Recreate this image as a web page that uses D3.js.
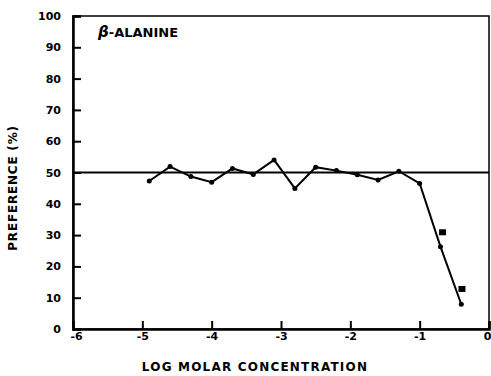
<!DOCTYPE html>
<html>
<head>
<meta charset="utf-8">
<script src="https://cdn.jsdelivr.net/npm/d3@7"></script>
<style>
  body { margin: 0; background: #fff; }
  text { font-family: "DejaVu Sans", sans-serif; font-weight: bold; fill: #000; }
</style>
</head>
<body>
<svg id="chart" width="491" height="376"></svg>
<script>
// log molar concentration vs preference
const logConc = [-4.9, -4.6, -4.3, -4.0, -3.7, -3.4, -3.1, -2.8, -2.5, -2.2, -1.9, -1.6, -1.3, -1.0, -0.7, -0.4];
const preference = [47.3, 51.9, 48.7, 46.9, 51.3, 49.4, 54.0, 44.9, 51.7, 50.6, 49.3, 47.6, 50.4, 46.5, 26.3, 7.9];

// extra square markers (not connected)
const squareConc = [-0.67, -0.39];
const squarePref = [30.9, 12.8];

const xTicks = [-6, -5, -4, -3, -2, -1, 0];
const yTicks = [0, 10, 20, 30, 40, 50, 60, 70, 80, 90, 100];
const refLevel = 50;

const margin = { top: 16, right: 2, bottom: 47, left: 73 };
const width = 491, height = 376;

const svg = d3.select('#chart');

const x = d3.scaleLinear().domain([-6, 0]).range([margin.left, width - margin.right]);
const y = d3.scaleLinear().domain([0, 100]).range([height - margin.bottom, margin.top]);

// frame
svg.append('rect')
    .attr('x', x(-6)).attr('y', y(100))
    .attr('width', x(0) - x(-6)).attr('height', y(0) - y(100))
    .attr('fill', 'none').attr('stroke', '#000').attr('stroke-width', 1.5);

// axes with inward ticks
const xAxis = svg.append('g')
    .attr('transform', `translate(0,${y(0)})`)
    .call(d3.axisBottom(x).tickValues(xTicks).tickSize(-8).tickPadding(4).tickFormat(d => d === 0 ? '0' : '-' + Math.abs(d)));
xAxis.select('.domain').attr('stroke-width', 2.5);
xAxis.selectAll('.tick line').attr('stroke-width', 2);
xAxis.selectAll('.tick text').attr('font-size', 11).attr('dy', '0.6em');
xAxis.selectAll('.tick').filter(d => d === 0).select('text').attr('text-anchor', 'end').attr('x', 2);
xAxis.selectAll('.tick').filter(d => d === -6).select('text').attr('x', 3);

const yAxis = svg.append('g')
    .attr('transform', `translate(${x(-6)},0)`)
    .call(d3.axisLeft(y).tickValues(yTicks).tickSize(-8).tickPadding(12));
yAxis.select('.domain').attr('stroke-width', 2.5);
yAxis.selectAll('.tick line').attr('stroke-width', 2);
yAxis.selectAll('.tick text').attr('font-size', 11);
yAxis.selectAll('.tick').filter(d => d === 0).select('line').remove();

svg.selectAll('.domain').attr('stroke', '#000');

// 50% reference line
svg.append('line')
    .attr('x1', x(-6)).attr('x2', x(0))
    .attr('y1', y(refLevel)).attr('y2', y(refLevel))
    .attr('stroke', '#000').attr('stroke-width', 2);

// data line
const pts = logConc.map((c, i) => [c, preference[i]]);
const line = d3.line().x(d => x(d[0])).y(d => y(d[1]));
svg.append('path')
    .datum(pts)
    .attr('d', line)
    .attr('fill', 'none')
    .attr('stroke', '#000')
    .attr('stroke-width', 2);

svg.append('g').selectAll('circle')
    .data(pts)
    .enter().append('circle')
    .attr('cx', d => x(d[0]))
    .attr('cy', d => y(d[1]))
    .attr('r', 2.5)
    .attr('fill', '#000');

svg.append('g').selectAll('rect')
    .data(squareConc.map((c, i) => [c, squarePref[i]]))
    .enter().append('rect')
    .attr('x', d => x(d[0]) - 3.5)
    .attr('y', d => y(d[1]) - 3)
    .attr('width', 7)
    .attr('height', 6)
    .attr('fill', '#000');

// title inside plot
const title = svg.append('text')
    .attr('x', 98).attr('y', 37)
    .attr('font-size', 13);
title.append('tspan').attr('font-style', 'italic').attr('font-size', 15).text('β');
title.append('tspan').text('-ALANINE');

// axis titles
svg.append('text')
    .attr('x', 255).attr('y', 371)
    .attr('text-anchor', 'middle')
    .attr('font-size', 12)
    .attr('letter-spacing', 1.2)
    .text('LOG MOLAR CONCENTRATION');

svg.append('text')
    .attr('transform', 'translate(17,188) rotate(-90)')
    .attr('text-anchor', 'middle')
    .attr('font-size', 12)
    .attr('letter-spacing', 0.8)
    .text('PREFERENCE (%)');
</script>
</body>
</html>
